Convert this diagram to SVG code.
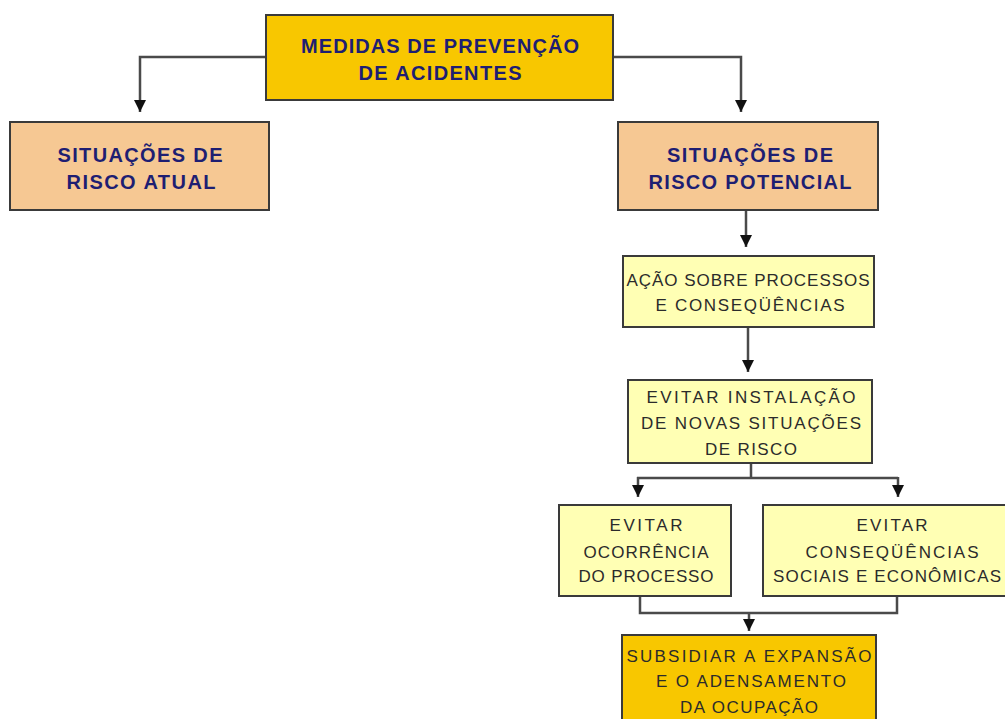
<svg xmlns="http://www.w3.org/2000/svg" width="1005" height="719" viewBox="0 0 1005 719">
<style>
.box{stroke:#3a3a3a;stroke-width:2}
.gold{fill:#F8C700}
.peach{fill:#F6C893}
.pale{fill:#FFFFB4}
.t1{font-family:"Liberation Sans",Arial,sans-serif;font-weight:bold;font-size:20px;fill:#1E1E72;text-anchor:middle}
.t2{font-family:"Liberation Sans",Arial,sans-serif;font-size:17px;fill:#2b2b2b;text-anchor:middle}
.c{fill:none;stroke:#4a4a4a;stroke-width:2.5}
</style>
<defs>
<marker id="ah" markerUnits="userSpaceOnUse" markerWidth="14" markerHeight="14" viewBox="0 0 14 14" refX="13" refY="7" orient="auto">
<path d="M1,1 L13,7 L1,13 Z" fill="#111"/>
</marker>
</defs>
<rect width="1005" height="719" fill="#fff"/>
<g id="connectors">
<polyline class="c" points="266,57 140,57 140,112" marker-end="url(#ah)"/>
<polyline class="c" points="613,57 741,57 741,112" marker-end="url(#ah)"/>
<line class="c" x1="746" y1="210" x2="746" y2="247" marker-end="url(#ah)"/>
<line class="c" x1="748" y1="327" x2="748" y2="372" marker-end="url(#ah)"/>
<polyline class="c" points="751,463 751,478"/>
<line class="c" x1="637" y1="478" x2="898" y2="478"/>
<line class="c" x1="638" y1="477" x2="638" y2="497" marker-end="url(#ah)"/>
<line class="c" x1="898" y1="477" x2="898" y2="497" marker-end="url(#ah)"/>
<polyline class="c" points="640,596 640,613 897,613 897,596"/>
<line class="c" x1="749" y1="612" x2="749" y2="631" marker-end="url(#ah)"/>
</g>
<g id="n1">
<rect class="box gold" x="266" y="15" width="347" height="85"/>
<text class="t1" x="440" y="53" textLength="278">MEDIDAS DE PREVENÇÃO</text>
<text class="t1" x="440" y="80" textLength="163">DE ACIDENTES</text>
</g>
<g id="n2">
<rect class="box peach" x="10" y="122" width="259" height="88"/>
<text class="t1" x="140" y="162" textLength="165">SITUAÇÕES DE</text>
<text class="t1" x="141" y="189" textLength="149">RISCO ATUAL</text>
</g>
<g id="n3">
<rect class="box peach" x="618" y="122" width="260" height="88"/>
<text class="t1" x="750" y="162" textLength="166">SITUAÇÕES DE</text>
<text class="t1" x="750" y="189" textLength="203">RISCO POTENCIAL</text>
</g>
<g id="n4">
<rect class="box pale" x="623" y="256" width="251" height="71"/>
<text class="t2" x="748" y="286" textLength="243">AÇÃO SOBRE PROCESSOS</text>
<text class="t2" x="750" y="311" textLength="189">E CONSEQÜÊNCIAS</text>
</g>
<g id="n5">
<rect class="box pale" x="628" y="380" width="244" height="83"/>
<text class="t2" x="751" y="403" textLength="209">EVITAR INSTALAÇÃO</text>
<text class="t2" x="751" y="429" textLength="220">DE NOVAS SITUAÇÕES</text>
<text class="t2" x="751" y="455" textLength="92">DE RISCO</text>
</g>
<g id="n6">
<rect class="box pale" x="559" y="505" width="172" height="91"/>
<text class="t2" x="646" y="531" textLength="73">EVITAR</text>
<text class="t2" x="646" y="558" textLength="125">OCORRÊNCIA</text>
<text class="t2" x="646" y="582" textLength="135">DO PROCESSO</text>
</g>
<g id="n7">
<rect class="box pale" x="763" y="505" width="250" height="91"/>
<text class="t2" x="892" y="531" textLength="71">EVITAR</text>
<text class="t2" x="892" y="558" textLength="173">CONSEQÜÊNCIAS</text>
<text class="t2" x="887" y="582" textLength="228">SOCIAIS E ECONÔMICAS</text>
</g>
<g id="n8">
<rect class="box gold" x="622" y="635" width="254" height="90"/>
<text class="t2" x="749" y="662" textLength="245">SUBSIDIAR A EXPANSÃO</text>
<text class="t2" x="751" y="687" textLength="190">E O ADENSAMENTO</text>
<text class="t2" x="749" y="713" textLength="138">DA OCUPAÇÃO</text>
</g>
</svg>
